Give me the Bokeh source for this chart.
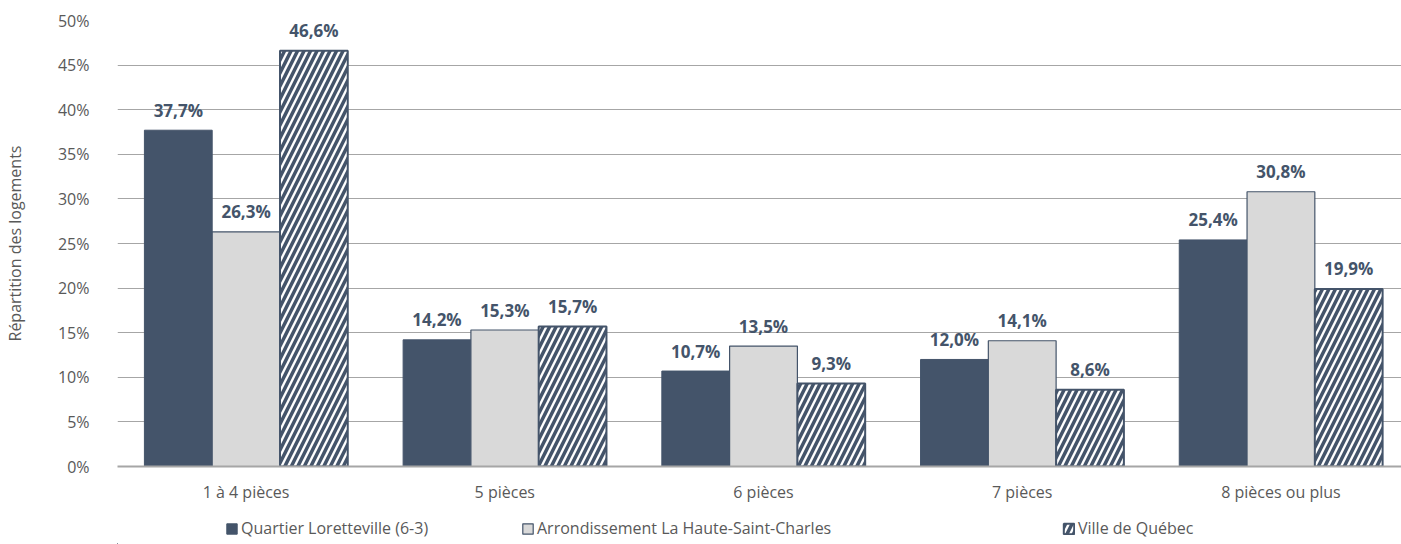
from bokeh.plotting import figure
from bokeh.layouts import column
from bokeh.models import (ColumnDataSource, Range1d, FixedTicker, Legend, LegendItem,
                          CustomJSTickFormatter)
from bokeh.transform import dodge
from bokeh.core.properties import value
from bokeh.embed import file_html
from bokeh.resources import INLINE

categories = ["1 à 4 pièces", "5 pièces", "6 pièces", "7 pièces", "8 pièces ou plus"]
series_names = ["Quartier Loretteville (6-3)", "Arrondissement La Haute-Saint-Charles", "Ville de Québec"]
loretteville = [37.7, 14.2, 10.7, 12.0, 25.4]
haute_st_charles = [26.3, 15.3, 13.5, 14.1, 30.8]
ville_quebec = [46.6, 15.7, 9.3, 8.6, 19.9]
y_ticks = [0, 5, 10, 15, 20, 25, 30, 35, 40, 45, 50]

FONT = "Open Sans"
DARK = "#44546A"
LIGHT = "#D9D9D9"
GREY_TXT = "#595959"

def fmt(v):
    return f"{v:.1f}".replace(".", ",") + "%"

idx = list(range(len(categories)))
src = ColumnDataSource(dict(
    x=idx,
    a=loretteville, b=haute_st_charles, c=ville_quebec,
    la=[fmt(v) for v in loretteville],
    lb=[fmt(v) for v in haute_st_charles],
    lc=[fmt(v) for v in ville_quebec],
))

p = figure(width=1401, height=505, output_backend="svg", toolbar_location=None,
           x_range=Range1d(-0.497, 4.466), y_range=Range1d(0, 50))
p.min_border_left = 113
p.min_border_right = 0
p.min_border_top = 20
p.min_border_bottom = 38
p.outline_line_color = None
p.background_fill_color = "white"
p.border_fill_color = "white"

W = 0.262
STYLES = [
    dict(fill_color=DARK, line_color=DARK, line_width=1),
    dict(fill_color=LIGHT, line_color=DARK, line_width=1.2),
    dict(fill_color="white", line_color=DARK, line_width=2,
         hatch_pattern="/", hatch_color=DARK, hatch_weight=3.5, hatch_scale=13),
]
COLS = ["a", "b", "c"]
OFFS = [-W, 0, W]
for col, off, st in zip(COLS, OFFS, STYLES):
    p.vbar(x=dodge("x", off, range=p.x_range), top=col, width=W, source=src, **st)

for col, lab, off in zip(COLS, ["la", "lb", "lc"], OFFS):
    p.text(x=dodge("x", off, range=p.x_range), y=col, text=lab, source=src,
           text_font=value(FONT), text_font_style="bold", text_font_size="17px",
           text_color=DARK, text_align="center", text_baseline="middle", y_offset=-20)

# axes
p.xaxis.ticker = FixedTicker(ticks=idx)
p.xaxis.major_label_overrides = {i: c for i, c in enumerate(categories)}
p.xaxis.major_tick_line_color = None
p.xaxis.minor_tick_line_color = None
p.xaxis.axis_line_color = "#A6A6A6"
p.xaxis.axis_line_width = 2
p.xaxis.major_label_standoff = 8
p.xaxis.major_label_text_font = FONT
p.xaxis.major_label_text_font_size = "16px"
p.xaxis.major_label_text_color = GREY_TXT

p.yaxis.ticker = FixedTicker(ticks=y_ticks)
p.yaxis.formatter = CustomJSTickFormatter(code="return tick + '%';")
p.yaxis.major_tick_line_color = None
p.yaxis.minor_tick_line_color = None
p.yaxis.axis_line_color = None
p.yaxis.major_label_standoff = 22
p.yaxis.major_label_text_font = FONT
p.yaxis.major_label_text_font_size = "16px"
p.yaxis.major_label_text_color = GREY_TXT
p.yaxis.axis_label = "Répartition des logements"
p.yaxis.axis_label_standoff = 29
p.yaxis.axis_label_text_font = FONT
p.yaxis.axis_label_text_font_size = "16px"
p.yaxis.axis_label_text_font_style = "normal"
p.yaxis.axis_label_text_color = GREY_TXT

p.xgrid.grid_line_color = None
p.ygrid.ticker = FixedTicker(ticks=y_ticks)
p.ygrid.grid_line_color = "#A6A6A6"
p.ygrid.grid_line_width = 1

# legend strip (separate small figure so the legend is not clipped); its bars lie
# far outside its visible ranges, only the legend entries show.
pl = figure(width=1401, height=39, output_backend="svg", toolbar_location=None,
            x_range=Range1d(1000, 1001), y_range=Range1d(1000, 1001), min_border=0)
pl.axis.visible = False
pl.grid.visible = False
pl.outline_line_color = None
xs = [108, 404, 945]
for name, col, st, lx in zip(series_names, COLS, STYLES, xs):
    r = pl.vbar(x="x", top=col, width=W, source=src, **st)
    lg = Legend(items=[LegendItem(label=name, renderers=[r])], location=(lx, 5),
                orientation="horizontal", background_fill_alpha=0, border_line_color=None,
                glyph_width=13, glyph_height=13, label_standoff=3, padding=4, margin=0,
                label_text_font=FONT, label_text_font_size="16px", label_text_color=GREY_TXT)
    pl.add_layout(lg, "center")

layout = column(p, pl, spacing=0)
open("out.html", "w").write(file_html(layout, INLINE))
